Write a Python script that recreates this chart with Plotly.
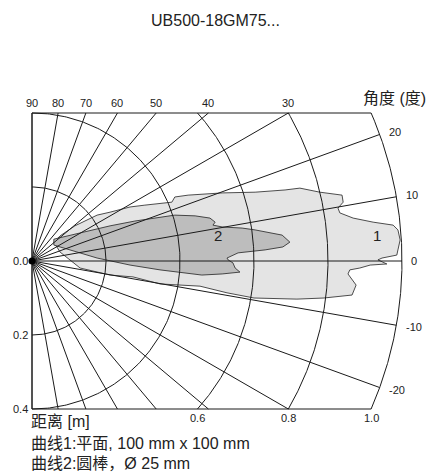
import numpy as np
import plotly.graph_objects as go

# ---------------- data ----------------
title_text = "UB500-18GM75..."
grid_radii = [0.2, 0.4, 0.6, 0.8, 1.0]
grid_angles = list(range(-90, 91, 10))
box_half = 0.4
top_angle_labels = [90, 80, 70, 60, 50, 40, 30]
right_angle_labels = [20, 10, 0, -10, -20]
left_dist_labels = [0.0, 0.2, 0.4]
bottom_dist_labels = [0.6, 0.8, 1.0]

# curve 1: flat plate 100 x 100 mm (x = forward distance [m], y = lateral [m])
curve1_x = [0.059, 0.076, 0.116, 0.157, 0.176, 0.211, 0.265, 0.305, 0.332, 0.378,
            0.386, 0.422, 0.514, 0.603, 0.684, 0.724, 0.778, 0.838, 0.841, 0.827,
            0.832, 0.868, 0.922, 0.976, 0.989, 0.995, 0.989, 0.986, 0.946, 0.935,
            0.959, 0.914, 0.886, 0.859, 0.854, 0.865, 0.876, 0.865, 0.789, 0.716,
            0.600, 0.527, 0.492, 0.454, 0.346, 0.273, 0.211, 0.130, 0.076, 0.059]
curve1_y = [0.051, 0.068, 0.095, 0.116, 0.124, 0.132, 0.146, 0.151, 0.154, 0.159,
            0.173, 0.178, 0.184, 0.186, 0.192, 0.197, 0.186, 0.178, 0.159, 0.143,
            0.130, 0.116, 0.105, 0.097, 0.084, 0.057, 0.030, 0.016, 0.008, 0.003,
            -0.008, -0.011, -0.019, -0.024, -0.035, -0.051, -0.065, -0.092, -0.100, -0.103,
            -0.100, -0.086, -0.078, -0.068, -0.062, -0.043, -0.038, -0.019, 0.024, 0.051]

# curve 2: round bar, diameter 25 mm
curve2_x = [0.059, 0.130, 0.211, 0.278, 0.346, 0.386, 0.441, 0.481, 0.495, 0.489,
            0.514, 0.568, 0.603, 0.638, 0.676, 0.697, 0.678, 0.630, 0.557, 0.527,
            0.530, 0.543, 0.549, 0.562, 0.514, 0.459, 0.405, 0.346, 0.265, 0.176,
            0.059, 0.059]
curve2_y = [0.059, 0.076, 0.095, 0.108, 0.119, 0.124, 0.122, 0.116, 0.105, 0.097,
            0.092, 0.089, 0.084, 0.078, 0.070, 0.051, 0.038, 0.030, 0.022, 0.008,
            0.003, -0.005, -0.019, -0.030, -0.035, -0.038, -0.032, -0.024, -0.011, 0.008,
            0.043, 0.059]

curve_labels = ["1", "2"]
curve_label_pos = [(0.932, 0.070), (0.503, 0.070)]
axis_angle_title = "角度 (度)"
axis_dist_title = "距离 [m]"
legend_lines = ["曲线1:平面, 100 mm x 100 mm", "曲线2:圆棒，Ø 25 mm"]

# ---------------- figure ----------------
W, H = 428, 474
S = 370.0            # px per metre
OX, OY = 32, 261     # origin in px

fig = go.Figure()

fig.add_trace(go.Scatter(x=curve1_x, y=curve1_y, mode="lines", fill="toself",
                         fillcolor="#e4e4e4", line=dict(color="#222", width=0.8),
                         hoverinfo="skip", showlegend=False))
fig.add_trace(go.Scatter(x=curve2_x, y=curve2_y, mode="lines", fill="toself",
                         fillcolor="#bdbdbd", line=dict(color="#222", width=0.8),
                         hoverinfo="skip", showlegend=False))

gx, gy = [], []
for r in grid_radii:
    amax = np.arcsin(min(1.0, box_half / r))
    th = np.linspace(-amax, amax, 240)
    gx += list(r * np.cos(th)) + [None]
    gy += list(r * np.sin(th)) + [None]
rmax = max(grid_radii)
for a in grid_angles:
    t = np.radians(a)
    s = abs(np.sin(t))
    rend = rmax if s < 1e-9 else min(rmax, box_half / s)
    gx += [0, rend * np.cos(t), None]
    gy += [0, rend * np.sin(t), None]
xe = np.sqrt(rmax ** 2 - box_half ** 2)
gx += [xe, 0, 0, xe, None]
gy += [box_half, box_half, -box_half, -box_half, None]
fig.add_trace(go.Scatter(x=gx, y=gy, mode="lines", line=dict(color="#1a1a1a", width=1),
                         hoverinfo="skip", showlegend=False))
fig.add_trace(go.Scatter(x=[0], y=[0], mode="markers", marker=dict(color="black", size=7),
                         hoverinfo="skip", showlegend=False))

tick_font = dict(family="Liberation Sans, Arial, sans-serif", size=11, color="#222")
cjk_font = dict(family="Liberation Sans, Noto Sans CJK SC, sans-serif", size=16, color="#222")
ann = []
for a in top_angle_labels:
    t = np.radians(a)
    ann.append(dict(x=box_half / np.tan(t) if a != 90 else 0.0, y=box_half, text=str(a),
                    yanchor="bottom", xanchor="center", yshift=2, font=tick_font))
for a in right_angle_labels:
    t = np.radians(a)
    ann.append(dict(x=1.02 * np.cos(t), y=1.02 * np.sin(t), text=str(a),
                    xanchor="left", yanchor="middle", font=tick_font))
for v in left_dist_labels:
    ann.append(dict(x=0, y=-v, text=f"{v:.1f}", xanchor="right", yanchor="middle",
                    xshift=-2, font=tick_font))
for v in bottom_dist_labels:
    ann.append(dict(x=np.sqrt(v ** 2 - box_half ** 2), y=-box_half, text=f"{v:.1f}",
                    xanchor="center", yanchor="top", yshift=-1, font=tick_font))
for lbl, (lx, ly) in zip(curve_labels, curve_label_pos):
    ann.append(dict(x=lx, y=ly, text=lbl, xanchor="center", yanchor="middle",
                    font=dict(family="Liberation Sans, Arial", size=15, color="#222")))
ann.append(dict(x=(428 - OX) / S, y=(OY - 98) / S, text=axis_angle_title, xanchor="right",
                yanchor="middle", font=cjk_font))
ann.append(dict(x=-0.008, y=(OY - 421) / S, text=axis_dist_title, xanchor="left",
                yanchor="middle", font=cjk_font))
for i, line in enumerate(legend_lines):
    ann.append(dict(x=-0.008, y=(OY - (443 + 20 * i)) / S, text=line, xanchor="left",
                    yanchor="middle", font=cjk_font))
ann.append(dict(x=(215 - OX) / S, y=(OY - 20) / S, text=title_text, xanchor="center",
                yanchor="middle", font=dict(family="Liberation Sans, Arial", size=16, color="#222")))
for a_ in ann:
    a_.update(showarrow=False, xref="x", yref="y")

fig.update_layout(
    width=W, height=H, margin=dict(l=0, r=0, t=0, b=0),
    paper_bgcolor="white", plot_bgcolor="white",
    xaxis=dict(range=[-OX / S, (W - OX) / S], visible=False, fixedrange=True),
    yaxis=dict(range=[(OY - H) / S, OY / S], visible=False, fixedrange=True),
    annotations=ann, showlegend=False,
)

fig.write_html("out.html", config={"displayModeBar": False},
               post_script="document.body.style.margin='0px';")
